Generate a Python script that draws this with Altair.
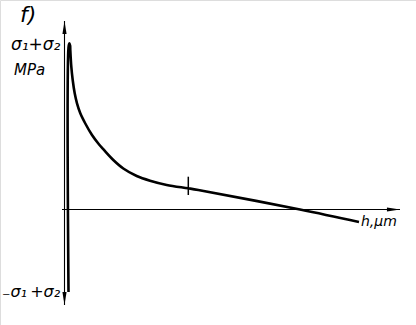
import altair as alt
import pandas as pd

# Curve: h (distance along the axis) and stress (sigma1+sigma2), arbitrary units
curve_h = [3.5, 3.5, 4.3, 5.1, 5.3, 6.3, 7.7, 9.7, 12, 15.3, 20.3, 27, 33.7, 38.7, 48.3, 58.3,
           71.7, 85, 101.7, 123.3, 133.3, 235, 294]
curve_s = [-82.5, 162, 166.2, 164, 159.5, 142.8, 129.5, 116.2, 106.2, 96.2, 86, 74.5,
           65.5, 59.8, 49.5, 41, 33.5, 28.8, 24.6, 21.2, 19.5, 0, -12.5]

# Marker (short cross tick) on the curve
marker_h = [123.3, 123.3]
marker_s = [32.8, 14.5]

# Axis extents
x_axis_h = [-3, 335]
y_axis_s = [-95.5, 188.5]

# Labels
label_panel = "f)"
label_y_top = "σ₁+σ₂"
label_unit = "MPa"
label_y_bottom = "₋σ₁\u2009+σ₂"
label_x = "h,μm"

X_DOMAIN = [-65, 351]
Y_DOMAIN = [-115.5, 209.5]

xs = alt.Scale(domain=X_DOMAIN, nice=False, zero=False)
ys = alt.Scale(domain=Y_DOMAIN, nice=False, zero=False)

curve_df = pd.DataFrame({"h": curve_h, "s": curve_s, "i": range(len(curve_h))})
marker_df = pd.DataFrame({"h": marker_h, "s": marker_s})
xaxis_df = pd.DataFrame({"h": x_axis_h, "s": [0, 0]})
yaxis_df = pd.DataFrame({"h": [-0.5, -0.5], "s": y_axis_s})
arrows_df = pd.DataFrame({
    "h": [-0.5, -0.5, x_axis_h[1]],
    "s": [y_axis_s[1], y_axis_s[0], 0],
    "ang": [0, 180, 90],
})

X = lambda: alt.X("h:Q", scale=xs, axis=None)
Y = lambda: alt.Y("s:Q", scale=ys, axis=None)

curve = alt.Chart(curve_df).mark_line(
    color="black", strokeWidth=2.6, strokeJoin="round", interpolate="catmull-rom"
).encode(x=X(), y=Y(), order=alt.Order("i:Q"))
marker = alt.Chart(marker_df).mark_line(color="black", strokeWidth=1.5).encode(x=X(), y=Y())
xaxis = alt.Chart(xaxis_df).mark_line(color="black", strokeWidth=1.1).encode(x=X(), y=Y())
yaxis = alt.Chart(yaxis_df).mark_line(color="black", strokeWidth=1.1).encode(x=X(), y=Y())
arrows = alt.Chart(arrows_df).mark_point(
    shape="M0,0L0.32,2L-0.32,2Z", filled=True, color="black", size=170, opacity=1, strokeWidth=0
).encode(x=X(), y=Y(), angle=alt.Angle("ang:Q", scale=None))

FONT = "DejaVu Sans"

def txt(t, x, y, size, italic=True):
    return alt.Chart(pd.DataFrame({"t": [t]})).mark_text(
        font=FONT, fontSize=size, fontStyle="italic" if italic else "normal",
        align="left", baseline="alphabetic", color="black"
    ).encode(x=alt.value(x), y=alt.value(y), text="t:N")

labels = [
    txt(label_panel, 20, 22, 22),
    txt(label_y_top, 11, 50, 17),
    txt(label_unit, 14, 75, 15),
    txt(label_y_bottom, 2, 297, 16),
    txt(label_x, 361, 226, 14),
]

chart = alt.layer(xaxis, yaxis, curve, marker, arrows, *labels).properties(
    width=416, height=325, padding=0, autosize=alt.AutoSizeParams(type="none")
).configure_view(stroke=None).configure(background="white")

chart.save("out.html", embed_options={"renderer": "svg", "actions": False})
